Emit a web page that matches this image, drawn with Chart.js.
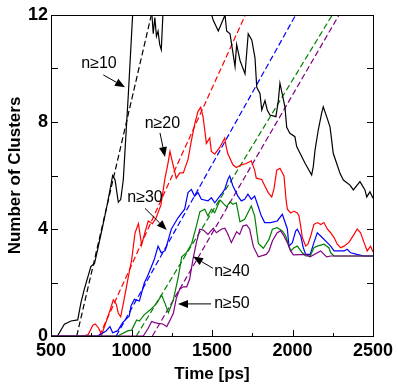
<!DOCTYPE html>
<html><head><meta charset="utf-8">
<script src="https://cdn.jsdelivr.net/npm/chart.js@4/dist/chart.umd.min.js"></script>
<style>html,body{margin:0;padding:0;background:#fff;overflow:hidden}canvas{display:block}</style>
</head><body>
<canvas id="c" width="398" height="390"></canvas>
<script>
// ---- data (time in ps, number of clusters) ----
const t10 = [500, 540, 583, 624, 666, 686, 707, 748, 770, 790, 821, 852, 883, 898, 918, 933, 949, 980, 1007, 1040, 1080, 1120, 1127, 1135, 1145, 1155, 1165, 1175, 1185, 1195, 1230, 1300, 1400, 1470, 1498, 1508, 1539, 1581, 1591, 1612, 1622, 1643, 1653, 1674, 1705, 1725, 1747, 1767, 1778, 1798, 1809, 1829, 1843, 1860, 1897, 1912, 1922, 1953, 1964, 1984, 2015, 2026, 2047, 2078, 2119, 2129, 2140, 2160, 2181, 2191, 2212, 2233, 2243, 2253, 2274, 2295, 2316, 2357, 2378, 2419, 2450, 2461, 2481, 2500];
const n10 = [0, 0, 0.44, 0.56, 0.6, 1.25, 1.75, 2.6, 2.7, 3.24, 4.1, 5.0, 6.0, 5.83, 5.0, 5.1, 5.83, 9.0, 12, 13, 13.5, 13, 12, 11.3, 11.9, 11.2, 11.4, 10.9, 10.7, 12, 13, 13.5, 13.5, 13, 12, 11.8, 11.4, 12, 11.4, 11.3, 10.9, 10.07, 10.9, 10.3, 9.8, 11.3, 11.07, 10.4, 9.3, 9.07, 8.45, 8.8, 8.45, 8.26, 8.2, 8.8, 9.45, 8.57, 7.8, 7.58, 7.45, 7.08, 6.83, 6.46, 6.02, 6.33, 6.95, 7.7, 8.33, 8.57, 8.2, 7.82, 7.33, 6.83, 6.46, 6.08, 5.83, 5.64, 5.46, 5.77, 5.46, 5.2, 5.39, 5.15];

const t20 = [500, 676, 700, 730, 760, 775, 795, 815, 835, 866, 887, 905, 918, 933, 955, 980, 1001, 1022, 1043, 1063, 1080, 1104, 1130, 1152, 1183, 1208, 1225, 1239, 1258, 1278, 1300, 1322, 1351, 1372, 1392, 1413, 1430, 1444, 1455, 1465, 1486, 1496, 1517, 1548, 1579, 1589, 1599, 1630, 1651, 1682, 1713, 1744, 1765, 1775, 1809, 1829, 1850, 1871, 1885, 1902, 1922, 1947, 1960, 1968, 1989, 2009, 2030, 2040, 2051, 2061, 2082, 2096, 2113, 2133, 2154, 2175, 2195, 2216, 2237, 2258, 2278, 2299, 2320, 2351, 2382, 2402, 2423, 2444, 2464, 2485, 2500];
const n20 = [0, 0, 0, 0.05, 0.4, 0.45, 0.3, 0.05, 0.4, 0.95, 1.35, 1.2, 0.85, 0.72, 1.4, 2.2, 2.85, 3.85, 4.2, 3.4, 3.8, 4.3, 4.2, 4.4, 4.9, 5.9, 6.4, 6.9, 6.4, 5.9, 6.1, 6.1, 6.6, 7.3, 7.9, 8.4, 8.55, 8.2, 7.7, 7.2, 7.4, 6.9, 6.8, 7.05, 7.4, 7.05, 6.8, 6.4, 6.3, 6.4, 6.45, 6.55, 6.2, 5.9, 5.85, 5.6, 5.35, 5.2, 5.5, 6.2, 6.27, 5.98, 5.1, 4.74, 4.6, 4.67, 4.6, 4.5, 4.1, 3.68, 3.36, 3.43, 3.74, 4.17, 4.24, 4.17, 4.24, 4.0, 3.86, 3.68, 3.43, 3.3, 3.36, 3.5, 3.8, 4.0, 3.86, 3.5, 3.18, 3.36, 3.14];

const t30 = [500, 790, 842, 866, 883, 915, 945, 986, 997, 1018, 1049, 1080, 1100, 1142, 1165, 1185, 1210, 1247, 1289, 1330, 1351, 1372, 1392, 1413, 1434, 1475, 1496, 1517, 1558, 1579, 1599, 1610, 1630, 1661, 1682, 1703, 1723, 1744, 1765, 1786, 1806, 1827, 1864, 1905, 1937, 1968, 1978, 1999, 2020, 2030, 2051, 2067, 2082, 2110, 2133, 2154, 2175, 2216, 2237, 2258, 2320, 2340, 2361, 2400, 2444, 2500];
const n30 = [0, 0, 0.19, 0.35, 0.12, 0.2, 0.5, 0.75, 1.12, 1.37, 1.31, 1.99, 2.24, 2.87, 3.36, 3.11, 3.2, 3.99, 4.42, 4.74, 5.36, 5.48, 5.23, 5.36, 5.11, 5.05, 5.17, 4.98, 5.3, 5.48, 5.86, 5.98, 5.61, 5.23, 5.05, 5.11, 5.3, 5.11, 5.23, 4.86, 4.49, 4.24, 4.24, 4.3, 4.55, 4.0, 3.36, 3.49, 3.93, 3.99, 3.74, 3.3, 3.05, 3.05, 3.49, 3.86, 3.74, 3.49, 3.36, 3.18, 3.18, 3.24, 3.11, 3.05, 2.99, 2.99];

const t40 = [500, 914, 976, 1001, 1032, 1049, 1080, 1115, 1156, 1187, 1208, 1229, 1260, 1291, 1312, 1340, 1374, 1403, 1425, 1455, 1475, 1496, 1517, 1550, 1591, 1612, 1630, 1651, 1674, 1703, 1723, 1744, 1765, 1788, 1819, 1854, 1875, 1905, 1937, 1958, 1978, 1989, 2009, 2030, 2061, 2082, 2110, 2133, 2154, 2195, 2226, 2237, 2258, 2500];
const n40 = [0, 0, 0.19, 0.22, 0.6, 0.56, 0.8, 0.97, 1.22, 1.53, 1.22, 0.87, 1.35, 2.22, 2.96, 3.1, 3.46, 4.11, 4.65, 4.74, 4.49, 4.74, 4.61, 5.08, 4.83, 5.02, 4.92, 4.98, 4.27, 4.36, 4.61, 4.86, 4.49, 3.46, 3.28, 3.61, 3.99, 4.05, 3.93, 3.74, 3.36, 3.18, 3.3, 3.36, 3.11, 2.99, 2.99, 3.3, 3.36, 3.43, 3.3, 3.11, 2.99, 2.99];

const t50 = [500, 1073, 1104, 1125, 1145, 1166, 1195, 1219, 1240, 1260, 1278, 1299, 1322, 1343, 1361, 1382, 1403, 1424, 1446, 1475, 1508, 1527, 1558, 1580, 1599, 1620, 1653, 1672, 1692, 1715, 1734, 1757, 1788, 1837, 1854, 1875, 1905, 1926, 1947, 1968, 1989, 2005, 2082, 2109, 2175, 2212, 2237, 2500];
const n50 = [0, 0, 0.29, 0.54, 0.5, 0.47, 0.45, 0.35, 0.6, 0.85, 1.4, 1.75, 1.84, 1.84, 2.12, 2.87, 3.49, 3.99, 3.96, 3.8, 4.03, 3.86, 3.99, 4.03, 3.8, 3.49, 3.9, 3.8, 4.11, 4.15, 3.99, 3.34, 2.96, 3.05, 3.18, 3.55, 3.86, 3.93, 3.74, 3.49, 3.18, 3.03, 3.05, 2.96, 3.18, 2.96, 2.99, 2.99];

// linear fits (dashed): start/end times, values
const fitT10 = [660, 1123];
const fitT20 = [800, 1707];
const fitT30 = [905, 2020];
const fitT40 = [1030, 2247];
const fitT50 = [1130, 2289];
const fitN = [0, 12];

// tick values
const xTicks = [500, 1000, 1500, 2000, 2500];
const xMinor = [750, 1250, 1750, 2250];
const yTicks = [0, 4, 8, 12];
const yMinor = [2, 6, 10];

// annotations (data coordinates)
const noteText = ['n≥10', 'n≥20', 'n≥30', 'n≥40', 'n≥50'];
const noteX = [798, 1192, 1084, 1624, 1624];
const noteY = [10.17, 7.93, 5.16, 2.39, 1.23];
const arrowFromX = [825, 1177, 1084, 1506, 1494];
const arrowFromY = [9.76, 7.59, 4.77, 2.53, 1.2];
const arrowToX = [960, 1208, 1219, 1382, 1289];
const arrowToY = [9.30, 6.69, 3.96, 2.97, 1.2];

// ---- chart ----
const FONT = "'Liberation Sans', Arial, sans-serif";
Chart.defaults.font.family = FONT;
Chart.defaults.color = '#000';

function pts(t, v) { return t.map((x, i) => ({x: x, y: v[i]})); }

const colors = ['#000000', '#ff0000', '#0000ff', '#008000', '#800080'];
const series = [[t10, n10], [t20, n20], [t30, n30], [t40, n40], [t50, n50]];
const fits = [fitT10, fitT20, fitT30, fitT40, fitT50];

const datasets = [];
series.forEach((s, i) => {
  datasets.push({data: pts(s[0], s[1]), borderColor: colors[i], borderWidth: 1.2,
    pointRadius: 0, tension: 0, fill: false, order: 10 - i});
  datasets.push({data: pts(fits[i], fitN), borderColor: colors[i], borderWidth: 1.2,
    borderDash: [6, 3], pointRadius: 0, tension: 0, fill: false, order: 20 - i});
});

const framePlugin = {
  id: 'frame',
  afterDraw(chart) {
    const {ctx, chartArea: a, scales: {x, y}} = chart;
    ctx.save();
    ctx.strokeStyle = '#000';
    ctx.lineWidth = 1;
    ctx.strokeRect(Math.round(a.left) + 0.5, Math.round(a.top) + 0.5,
      Math.round(a.right - a.left), Math.round(a.bottom - a.top));
    ctx.beginPath();
    xTicks.forEach(v => { const px = Math.round(x.getPixelForValue(v)) + 0.5;
      ctx.moveTo(px, a.bottom); ctx.lineTo(px, a.bottom - 6); });
    xMinor.forEach(v => { const px = Math.round(x.getPixelForValue(v)) + 0.5;
      ctx.moveTo(px, a.bottom); ctx.lineTo(px, a.bottom - 3); });
    yTicks.concat(yMinor).forEach(v => { const py = Math.round(y.getPixelForValue(v)) + 0.5;
      ctx.moveTo(a.left, py); ctx.lineTo(a.left + 7, py);
      ctx.moveTo(a.right, py); ctx.lineTo(a.right - 6, py); });
    ctx.stroke();

    // annotations
    ctx.fillStyle = '#000';
    ctx.font = '16px ' + FONT;
    ctx.textAlign = 'center';
    ctx.textBaseline = 'middle';
    noteText.forEach((txt, i) => {
      ctx.fillText(txt, x.getPixelForValue(noteX[i]), y.getPixelForValue(noteY[i]));
      const x0 = x.getPixelForValue(arrowFromX[i]), y0 = y.getPixelForValue(arrowFromY[i]);
      const x1 = x.getPixelForValue(arrowToX[i]), y1 = y.getPixelForValue(arrowToY[i]);
      const ang = Math.atan2(y1 - y0, x1 - x0);
      const L = 10, W = 4;
      const bx = x1 - L * Math.cos(ang), by = y1 - L * Math.sin(ang);
      ctx.beginPath();
      ctx.moveTo(x0, y0); ctx.lineTo(bx, by);
      ctx.stroke();
      ctx.beginPath();
      ctx.moveTo(x1, y1);
      ctx.lineTo(bx + W * Math.sin(ang), by - W * Math.cos(ang));
      ctx.lineTo(bx - W * Math.sin(ang), by + W * Math.cos(ang));
      ctx.closePath();
      ctx.fill();
    });
    ctx.restore();
  }
};

new Chart(document.getElementById('c'), {
  type: 'line',
  data: {datasets: datasets},
  options: {
    responsive: false,
    animation: false,
    devicePixelRatio: 1,
    layout: {padding: {top: 15, right: 25, left: 0, bottom: 0}},
    plugins: {legend: {display: false}, tooltip: {enabled: false}},
    scales: {
      x: {
        type: 'linear', min: 500, max: 2500,
        afterBuildTicks(s) { s.ticks = xTicks.map(v => ({value: v})); },
        afterFit(s) { s.height = 54; },
        grid: {display: false, drawTicks: false},
        border: {display: false},
        ticks: {padding: 4, maxRotation: 0, autoSkip: false, font: {size: 18, weight: 'bold'}, color: '#000',
          callback: v => String(v)},
        title: {display: true, text: 'Time [ps]', color: '#000', font: {size: 17, weight: 'bold'}, padding: {top: 0, bottom: 5}}
      },
      y: {
        type: 'linear', min: 0, max: 12,
        afterBuildTicks(s) { s.ticks = yTicks.map(v => ({value: v})); },
        afterFit(s) { s.width = 51; },
        grid: {display: false, drawTicks: false},
        border: {display: false},
        ticks: {padding: 3, autoSkip: false, font: {size: 18, weight: 'bold'}, color: '#000',
          callback: v => String(v)},
        title: {display: true, text: 'Number of Clusters', color: '#000', font: {size: 17, weight: 'bold'}, padding: {top: 5, bottom: 0}}
      }
    }
  },
  plugins: [framePlugin]
});
</script>
</body></html>
